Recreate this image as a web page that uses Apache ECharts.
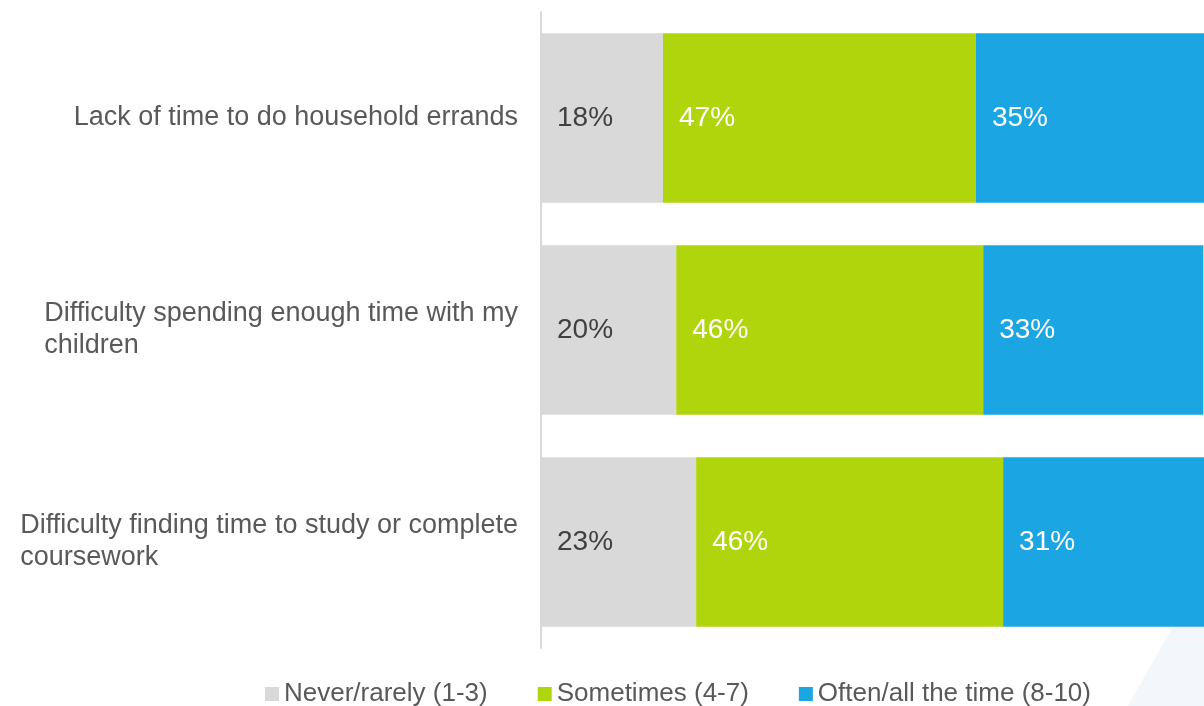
<!DOCTYPE html>
<html>
<head>
<meta charset="utf-8">
<script src="https://cdn.jsdelivr.net/npm/echarts@6/dist/echarts.min.js"></script>
<style>
  html, body { margin: 0; padding: 0; background: #ffffff; }
  #chart { width: 1204px; height: 706px; }
</style>
</head>
<body>
<div id="chart"></div>
<script>
// Categories (top to bottom)
const categories = [
  'Lack of time to do household errands',
  'Difficulty spending enough time with my\nchildren',
  'Difficulty finding time to study or complete\ncoursework'
];
const seriesNames = ['Never/rarely (1-3)', 'Sometimes (4-7)', 'Often/all the time (8-10)'];
// Estimated bar lengths (percent)
const neverValues = [18.4, 20.4, 23.4];
const sometimesValues = [47.2, 46.3, 46.3];
const oftenValues = [34.4, 33.2, 30.3];
// Printed labels
const neverLabels = ['18%', '20%', '23%'];
const sometimesLabels = ['47%', '46%', '46%'];
const oftenLabels = ['35%', '33%', '31%'];

const colors = ['#d9d9d9', '#b1d50d', '#1ba6e3'];
const font = '"Liberation Sans", Arial, Helvetica, sans-serif';

function makeSeries(name, values, labels, color, labelColor) {
  return {
    name: name,
    type: 'bar',
    stack: 'total',
    barCategoryGap: '20%',
    data: values,
    itemStyle: { color: color },
    label: {
      show: true,
      position: 'insideLeft',
      distance: 16,
      color: labelColor,
      fontFamily: font,
      fontSize: 28,
      formatter: p => labels[p.dataIndex]
    },
    emphasis: { disabled: true },
    silent: true
  };
}

const chart = echarts.init(document.getElementById('chart'), null, { renderer: 'canvas' });
chart.setOption({
  animation: false,
  backgroundColor: '#ffffff',
  graphic: [{
    type: 'polygon',
    z: -10,
    shape: { points: [[1128, 706], [1172, 628], [1204, 628], [1204, 706]] },
    style: { fill: '#f3f6fa' }
  }],
  grid: { left: 541, right: 0, top: 12, bottom: 58, containLabel: false },
  legend: {
    top: 676,
    left: 260,
    itemWidth: 14,
    itemHeight: 14,
    itemGap: 50,
    icon: 'rect',
    textStyle: { color: '#595959', fontFamily: font, fontSize: 26, padding: [0, 0, 0, 0] },
    data: seriesNames
  },
  xAxis: {
    type: 'value',
    min: 0,
    max: 100,
    show: false
  },
  yAxis: {
    type: 'category',
    inverse: true,
    data: categories,
    axisLine: { show: true, lineStyle: { color: '#d9d9d9', width: 2 } },
    axisTick: { show: false },
    axisLabel: {
      margin: 23,
      align: 'right',
      formatter: v => v.split('\n').map(s => '{a|' + s + '}').join('\n'),
      rich: {
        a: {
          color: '#595959',
          fontFamily: font,
          fontSize: 27,
          lineHeight: 32,
          align: 'left'
        }
      }
    }
  },
  series: [
    makeSeries(seriesNames[0], neverValues, neverLabels, colors[0], '#404040'),
    makeSeries(seriesNames[1], sometimesValues, sometimesLabels, colors[1], '#ffffff'),
    makeSeries(seriesNames[2], oftenValues, oftenLabels, colors[2], '#ffffff')
  ]
});
</script>
</body>
</html>
